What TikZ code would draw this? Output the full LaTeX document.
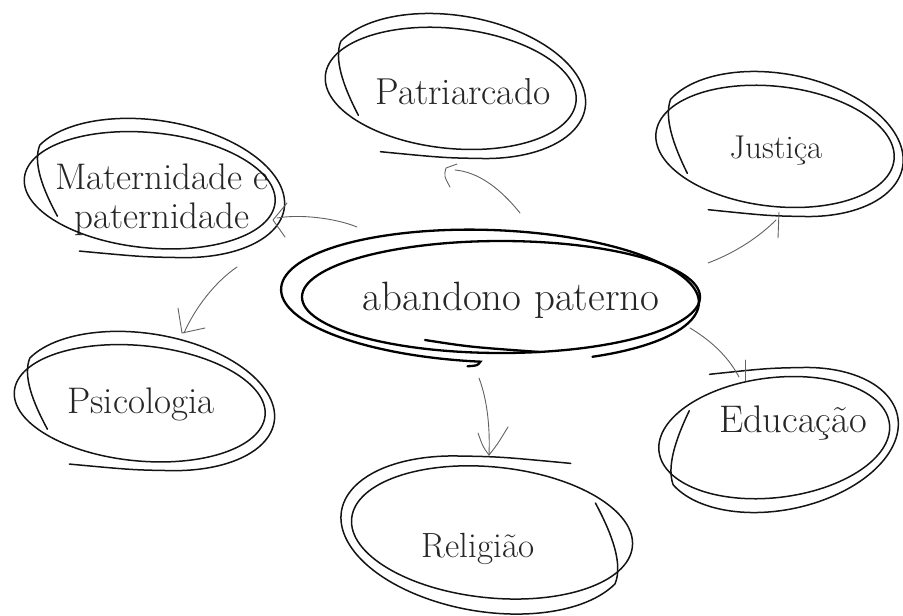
\documentclass[tikz,border=0pt]{standalone}
\usetikzlibrary{calc}
\tikzset{
  bub/.style={line width=1.5pt, draw=black!92, line cap=round},
  cbub/.style={line width=2.3pt, draw=black, line cap=round},
  arr/.style={line width=0.9pt, draw=black!62, line cap=round, line join=round},
  lbl/.style={text=black!85, inner sep=0pt},
  pics/bubble/.style={code={
    \draw[bub, rotate=-6] (-6,-3) ellipse [x radius=126, y radius=60];
    \draw[bub, rotate=-10] (-92,-46) .. controls (-112,-20) and (-126,5) .. (160:130 and 70)
       arc[start angle=160, end angle=-72, x radius=130, y radius=70]
       .. controls (0,-73) .. (-64,-78);
  }}
}
\begin{document}
\begin{tikzpicture}[x=1pt,y=1pt]
\useasboundingbox (0,0) rectangle (903,-616);
\clip (0,0) rectangle (903,-616);

% ---------- labels (named nodes) ----------
\node[lbl, anchor=base, font=\fontsize{41}{46}\selectfont] (c) at (511,-310) {abandono paterno};
\node[lbl, anchor=base, font=\fontsize{37.5}{42}\selectfont] (pat) at (463,-104) {Patriarcado};
\node[lbl, anchor=base, font=\fontsize{33}{38}\selectfont] (jus) at (776,-158) {Justiça};
\node[lbl, align=center, font=\fontsize{37}{39}\selectfont] (mat) at (162,-200) {Maternidade e\\paternidade};
\node[lbl, anchor=base, font=\fontsize{37}{42}\selectfont] (psi) at (141,-413) {Psicologia};
\node[lbl, anchor=base, font=\fontsize{38.5}{43}\selectfont] (edu) at (793,-432) {Educação};
\node[lbl, anchor=base, font=\fontsize{35}{40}\selectfont] (rel) at (478,-557) {Religião};

% ---------- scribbled bubbles ----------
\pic at (457,-86) {bubble};
\pic[xscale=0.95] at (781,-144) {bubble};
\pic[yscale=0.96] at (156,-188) {bubble};
\pic[yscale=0.96] at (146,-401) {bubble};
\pic[xscale=0.92, yscale=-1] at (780,-440) {bubble};
\pic[xscale=1.12, yscale=1.09, rotate=180] at (485,-535) {bubble};

% central bubble
\begin{scope}[shift={(490,-296)}, rotate=-2]
  \draw[cbub] (-60:209 and 66) arc[start angle=-60, end angle=268, x radius=209, y radius=66]
     .. controls (-10,-70) .. (-20,-71);
\end{scope}
\draw[cbub] (501,-297) ellipse [x radius=199, y radius=56];
\draw[cbub] (425,-340) .. controls (470,-347) .. (540,-352);

% ---------- connector end points ----------
\coordinate (c-pat) at (520,-213);  \coordinate (pat-in) at (455,-170);
\coordinate (c-mat) at (357,-227);  \coordinate (mat-in) at (277,-218);
\coordinate (c-psi) at (237,-267);  \coordinate (psi-in) at (184,-333);
\coordinate (c-rel) at (479,-378);  \coordinate (rel-in) at (489,-455);
\coordinate (c-edu) at (690,-328);  \coordinate (edu-in) at (739,-377);
\coordinate (c-jus) at (708,-263);  \coordinate (jus-in) at (776,-220);

% ---------- connectors ----------
\draw[arr] (c-pat) .. controls (500,-188) and (478,-172) .. (pat-in);
\draw[arr] (450,-187) .. controls (444,-176) .. (446,-168) -- (457,-164);

\draw[arr] (c-mat) .. controls (335,-218) and (300,-214) .. (mat-in);
\draw[arr] (287,-203) -- (273,-220) -- (285,-237);

\draw[arr] (c-psi) .. controls (215,-282) and (195,-308) .. (psi-in);
\draw[arr] (178,-308) -- (182,-333) -- (205,-328);

\draw[arr] (c-rel) .. controls (488,-402) and (490,-430) .. (rel-in);
\draw[arr] (478,-433) .. controls (483,-447) .. (rel-in);
\draw[arr] (508,-427) .. controls (497,-445) .. (rel-in);

\draw[arr] (c-edu) .. controls (715,-343) and (730,-360) .. (edu-in);
\draw[arr] (745,-360) -- (745,-381);

\draw[arr] (c-jus) .. controls (737,-252) and (760,-236) .. (jus-in);
\draw[arr] (779,-212) -- (778,-238);
\end{tikzpicture}
\end{document}
